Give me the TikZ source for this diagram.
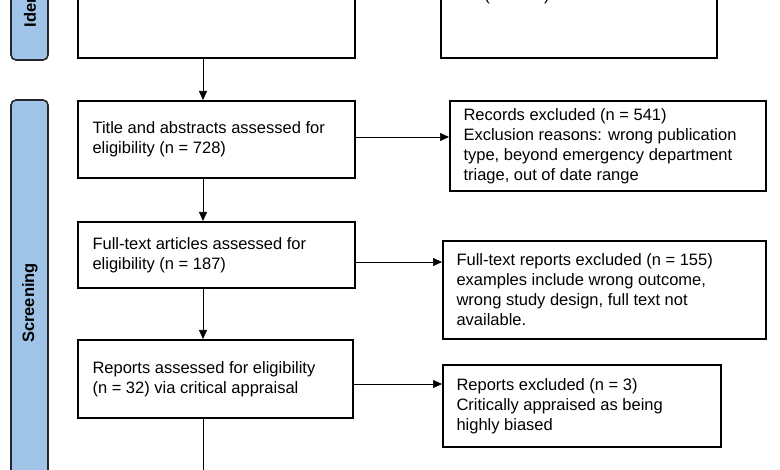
\documentclass[tikz,border=0pt]{standalone}
\usepackage{fontspec}
\setmainfont{Liberation Sans}
\usetikzlibrary{arrows.meta,positioning}
\definecolor{sidebl}{RGB}{160,196,232}
\tikzset{
  stagebox/.style={draw=black!85,line width=1.6pt,fill=sidebl,rounded corners=5pt},
  stagetext/.style={rotate=90,font=\fontsize{16.5}{18}\selectfont\bfseries},
  flowbox/.style={draw=black,line width=1.6pt,fill=white,align=left,
    inner sep=0pt,anchor=north west},
  flowtext/.style={anchor=west,align=left,font=\fontsize{16.5}{20}\selectfont},
  flowarrow/.style={-{Triangle[length=9pt,width=8pt]},line width=0.6pt}
}
\begin{document}
\begin{tikzpicture}[x=1pt,y=-1pt]
  \useasboundingbox (0,0) rectangle (780,470);
  \clip (0,0) rectangle (780,470);

  % side bars
  \draw[stagebox] (11,-80) rectangle (48,60);
  \node[stagetext] (ident) at (30,-24) {Identification};
  \draw[stagebox] (11,100) rectangle (48,520);
  \node[stagetext] (screen) at (30,303) {Screening};

  % identification boxes
  \draw[flowbox] (78,-80) rectangle (355,58);
  \coordinate (idl) at (203,58);
  \draw[flowbox] (441,-80) rectangle (717,58);
  \node[font=\fontsize{16.5}{20}\selectfont] (idr) at (517,-4) {(n = 112)};

  % main column
  \node[flowbox,minimum width=277pt,minimum height=77pt] (tia) at (77,100) {};
  \node[flowtext] at ([xshift=12pt]tia.west) {Title and abstracts assessed for\\eligibility (n = 728)};
  \node[flowbox,minimum width=277pt,minimum height=66pt] (ftx) at (77,221) {};
  \node[flowtext] at ([xshift=12pt]ftx.west) {Full-text articles assessed for\\eligibility (n = 187)};
  \node[flowbox,minimum width=275pt,minimum height=78pt] (rep) at (77,339) {};
  \node[flowtext] at ([xshift=12pt]rep.west) {Reports assessed for eligibility\\(n = 32) via critical appraisal};
  \coordinate (bot) at (203,480);

  % exclusion boxes
  \node[flowbox,minimum width=316pt,minimum height=90pt] (exa) at (449,100) {};
  \node[flowtext] at ([xshift=11pt]exa.west) {Records excluded (n = 541)\\Exclusion reasons: wrong publication\\type, beyond emergency department\\triage, out of date range};
  \node[flowbox,minimum width=323pt,minimum height=98pt] (exb) at (442,240) {};
  \node[flowtext] at ([xshift=11pt]exb.west) {Full-text reports excluded (n = 155)\\examples include wrong outcome,\\wrong study design, full text not\\available.};
  \node[flowbox,minimum width=278pt,minimum height=82pt] (exc) at (442,364) {};
  \node[flowtext] at ([xshift=11pt]exc.west) {Reports excluded (n = 3)\\Critically appraised as being\\highly biased};

  % arrows
  \coordinate (ha) at (0,137);
  \coordinate (hb) at (0,262);
  \coordinate (hc) at (0,384);
  \draw[flowarrow] (idl) -- (tia.north -| idl);
  \draw[flowarrow] (tia.south -| idl) -- (ftx.north -| idl);
  \draw[flowarrow] (ftx.south -| idl) -- (rep.north -| idl);
  \draw[line width=0.6pt] (rep.south -| idl) -- (bot);
  \draw[flowarrow] (tia.east |- ha) -- (exa.west |- ha);
  \draw[flowarrow] (ftx.east |- hb) -- (exb.west |- hb);
  \draw[flowarrow] (rep.east |- hc) -- (exc.west |- hc);
\end{tikzpicture}
\end{document}
